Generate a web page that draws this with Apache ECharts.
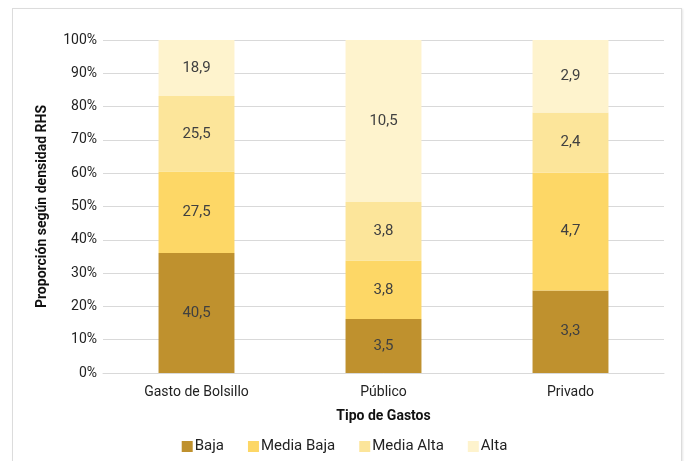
<!DOCTYPE html>
<html>
<head>
<meta charset="utf-8">
<script src="https://cdn.jsdelivr.net/npm/echarts@6/dist/echarts.min.js"></script>
<style>
  html, body { margin: 0; padding: 0; background: #fff; }
  #frame { position: absolute; left: 12px; top: 8px; width: 668px; height: 470px; border: 1px solid #dcdcdc; box-shadow: 1px 1px 2px #e6e6e6; }
  #chart { position: absolute; left: 0; top: 0; width: 689px; height: 461px; }
</style>
</head>
<body>
<div id="frame"></div>
<div id="chart"></div>
<script>
const categories = ['Gasto de Bolsillo', 'Público', 'Privado'];
const seriesNames = ['Baja', 'Media Baja', 'Media Alta', 'Alta'];
const baja = [40.5, 3.5, 3.3];
const mediaBaja = [27.5, 3.8, 4.7];
const mediaAlta = [25.5, 3.8, 2.4];
const alta = [18.9, 10.5, 2.9];
const colors = ['#BF912E', '#FDD766', '#FCE59A', '#FEF3CD'];
const yTicks = [0, 10, 20, 30, 40, 50, 60, 70, 80, 90, 100];

const font = '"Roboto", sans-serif';
const raw = [baja, mediaBaja, mediaAlta, alta];
const totals = categories.map((c, i) => raw.reduce((s, arr) => s + arr[i], 0));

let MyEcharts = echarts.init(document.getElementById('chart'));

let series = raw.map((arr, k) => ({
  name: seriesNames[k],
  type: 'bar',
  stack: 'total',
  barWidth: '40.6%',
  itemStyle: { color: colors[k] },
  label: {
    show: true,
    position: 'inside',
    color: '#404040',
    fontSize: 15,
    fontFamily: font,
    formatter: p => arr[p.dataIndex].toFixed(1).replace('.', ',')
  },
  data: arr.map((v, i) => v / totals[i] * 100)
}));

let option = {
  animation: false,
  textStyle: { fontFamily: font },
  grid: { left: 103, right: 25, top: 40, bottom: 88 },
  legend: {
    bottom: 2,
    left: 'center',
    itemWidth: 11,
    itemHeight: 11,
    itemGap: 24,
    icon: 'rect',
    textStyle: { color: '#222', fontSize: 15, fontFamily: font, padding: [0, 0, 0, -3] },
    data: seriesNames
  },
  xAxis: {
    type: 'category',
    data: categories,
    name: 'Tipo de Gastos',
    nameLocation: 'middle',
    nameGap: 36,
    nameTextStyle: { color: '#111', fontWeight: 'bold', fontSize: 14, fontFamily: font },
    axisTick: { show: false },
    axisLine: { lineStyle: { color: '#d9d9d9' } },
    axisLabel: { color: '#222', fontSize: 14, margin: 12, fontFamily: font }
  },
  yAxis: {
    type: 'value',
    min: 0,
    max: 100,
    interval: 10,
    name: 'Proporción según densidad RHS',
    nameLocation: 'middle',
    nameGap: 54,
    nameTextStyle: { color: '#111', fontWeight: 'bold', fontSize: 14, fontFamily: font },
    axisLine: { show: false },
    axisTick: { show: false },
    splitLine: { lineStyle: { color: '#d9d9d9' } },
    axisLabel: {
      color: '#222', fontSize: 14, margin: 6, fontFamily: font,
      formatter: v => yTicks.includes(v) ? v + '%' : ''
    }
  },
  series: series
};
MyEcharts.setOption(option);
</script>
</body>
</html>
